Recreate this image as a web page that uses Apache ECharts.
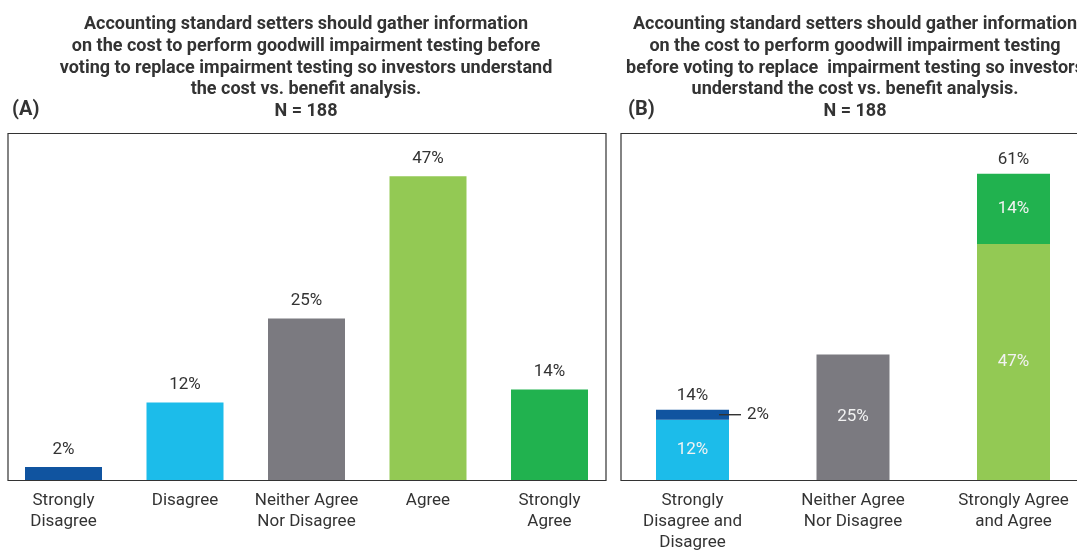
<!DOCTYPE html>
<html>
<head>
<meta charset="utf-8">
<script src="https://cdn.jsdelivr.net/npm/echarts@6/dist/echarts.min.js"></script>
<style>
  html, body { margin: 0; padding: 0; background: #fff; overflow: hidden; }
  #chart { width: 1110px; height: 550px; }
</style>
</head>
<body>
<div id="chart"></div>
<script>
// panel A
var categoriesA = ['Strongly\nDisagree', 'Disagree', 'Neither Agree\nNor Disagree', 'Agree', 'Strongly\nAgree']
var valuesA = [2, 12, 25, 47, 14]

// panel B
var categoriesB = ['Strongly\nDisagree and\nDisagree', 'Neither Agree\nNor Disagree', 'Strongly Agree\nand Agree']
var baseB = [12, 25, 47]
var strongB = [2, '-', 14]
var totalsB = [14, '-', 61]

var titleA = 'Accounting standard setters should gather information\non the cost to perform goodwill impairment testing before\nvoting to replace impairment testing so investors understand\nthe cost vs. benefit analysis.\nN = 188'
var titleB = 'Accounting standard setters should gather information\non the cost to perform goodwill impairment testing\nbefore voting to replace  impairment testing so investors\nunderstand the cost vs. benefit analysis.\nN = 188'

var colorsA = ['#1054a0', '#1cbcea', '#7b7a80', '#93c954', '#21b24f']
var font = 'Roboto, "DejaVu Sans", sans-serif'
var textColor = '#333'

var chart = echarts.init(document.getElementById('chart'))

var titleStyle = {
  fontFamily: font,
  fontSize: 18,
  fontWeight: 'bold',
  color: '#333',
  lineHeight: 21.7
}
var tagStyle = { fontFamily: font, fontSize: 20, fontWeight: 'bold', color: '#333' }

chart.setOption({
  animation: false,
  title: [
    { text: titleA, left: 306, top: 14, textAlign: 'center', padding: 0, textStyle: titleStyle },
    { text: titleB, left: 855, top: 14, textAlign: 'center', padding: 0, textStyle: titleStyle },
    { text: '(A)', left: 12, top: 100, padding: 0, textStyle: tagStyle },
    { text: '(B)', left: 628, top: 100, padding: 0, textStyle: tagStyle }
  ],
  graphic: [
    { type: 'rect', shape: { x: 8, y: 133.5, width: 598, height: 347 }, style: { fill: 'none', stroke: '#333', lineWidth: 1.2 }, z: 10 },
    { type: 'rect', shape: { x: 621, y: 133.5, width: 468, height: 347 }, style: { fill: 'none', stroke: '#333', lineWidth: 1.2 }, z: 10 }
  ],
  grid: [
    { left: 2.75, top: 133, width: 607.5, height: 347, outerBoundsMode: 'none' },
    { left: 612.25, top: 133, width: 481.5, height: 347, outerBoundsMode: 'none' }
  ],
  xAxis: [
    {
      type: 'category', gridIndex: 0, data: categoriesA,
      axisLine: { show: false }, axisTick: { show: false },
      axisLabel: { margin: 10, fontFamily: font, fontSize: 17, lineHeight: 21, color: textColor, interval: 0 }
    },
    {
      type: 'category', gridIndex: 1, data: categoriesB,
      axisLine: { show: false }, axisTick: { show: false },
      axisLabel: { margin: 10, fontFamily: font, fontSize: 17, lineHeight: 21, color: textColor, interval: 0 }
    }
  ],
  yAxis: [
    { type: 'value', gridIndex: 0, min: 0, max: 53.7, show: false, splitLine: { show: false } },
    { type: 'value', gridIndex: 1, min: 0, max: 69.1, show: false, splitLine: { show: false } }
  ],
  series: [
    {
      type: 'bar', xAxisIndex: 0, yAxisIndex: 0,
      barWidth: 77,
      data: valuesA.map(function (v, i) {
        return { value: v, itemStyle: { color: colorsA[i] } }
      }),
      label: {
        show: true, position: 'top', distance: 9,
        formatter: '{c}%',
        fontFamily: font, fontSize: 17, color: textColor
      }
    },
    {
      type: 'bar', xAxisIndex: 1, yAxisIndex: 1, stack: 'b',
      barWidth: 73,
      data: baseB.map(function (v, i) {
        return { value: v, itemStyle: { color: ['#1cbcea', '#7b7a80', '#93c954'][i] } }
      }),
      label: {
        show: true, position: 'inside', formatter: '{c}%',
        fontFamily: font, fontSize: 17, color: '#f2f2f2'
      }
    },
    {
      type: 'bar', xAxisIndex: 1, yAxisIndex: 1, stack: 'b',
      barWidth: 73,
      data: strongB.map(function (v, i) {
        if (i === 0) {
          return {
            value: v, itemStyle: { color: '#1054a0' },
            label: {
              show: true, position: 'right', distance: 0, offset: [-10, 0],
              formatter: '{ln|}{t|{c}%}',
              rich: {
                ln: { width: 22, height: 1.4, backgroundColor: '#333', verticalAlign: 'middle' },
                t: { fontFamily: font, fontSize: 17, color: textColor, padding: [0, 0, 0, 6], verticalAlign: 'middle' }
              }
            }
          }
        }
        return { value: v, itemStyle: { color: '#21b24f' } }
      }),
      label: {
        show: true, position: 'inside', formatter: '{c}%',
        fontFamily: font, fontSize: 17, color: '#f2f2f2'
      }
    },
    {
      type: 'bar', xAxisIndex: 1, yAxisIndex: 1, stack: 'b',
      barWidth: 73,
      data: totalsB.map(function (t) { return t === '-' ? '-' : 0 }),
      itemStyle: { color: 'transparent' },
      label: {
        show: true, position: 'top', distance: 5,
        formatter: function (p) { return totalsB[p.dataIndex] + '%' },
        fontFamily: font, fontSize: 17, color: textColor
      }
    }
  ]
})
</script>
</body>
</html>
